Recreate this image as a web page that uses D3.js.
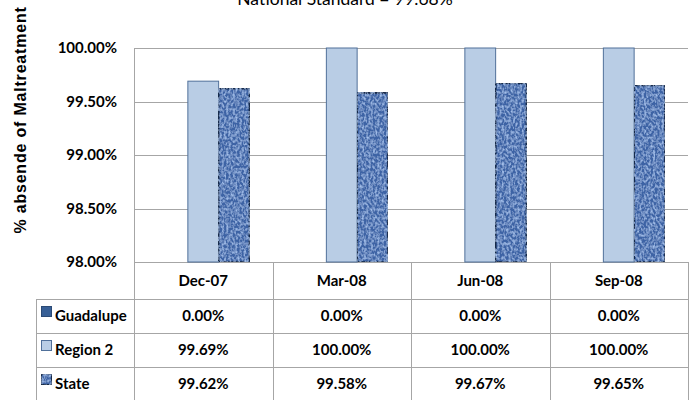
<!DOCTYPE html>
<html>
<head>
<meta charset="utf-8">
<script src="https://cdn.jsdelivr.net/npm/d3@7"></script>
<style>
  html, body { margin: 0; padding: 0; background: #fff; }
  svg { display: block; }
</style>
</head>
<body>
<svg id="chart" width="692" height="400"></svg>
<script>
// data
const categories = ["Dec-07", "Mar-08", "Jun-08", "Sep-08"];
const seriesNames = ["Guadalupe", "Region 2", "State"];
const guadalupe = [0, 0, 0, 0];
const region2 = [99.69, 100, 100, 100];
const state = [99.62, 99.58, 99.67, 99.65];
const yTicks = [98, 98.5, 99, 99.5, 100];
const title = "National Standard = 99.68%";
const yTitle = "% absende of Maltreatment";

const series = [guadalupe, region2, state];

const W = 692, H = 400;
const plot = { left: 134, right: 688, top: 48, bottom: 262 };
const rowH = 34, headH = 37, legLeft = 36;
const font = "Lato, 'Open Sans', sans-serif";

const svg = d3.select("#chart");

// state texture: noise filter
const defs = svg.append("defs");
const f = defs.append("filter").attr("id", "tex").attr("x", 0).attr("y", 0).attr("width", 1).attr("height", 1);
f.append("feTurbulence").attr("type", "fractalNoise").attr("baseFrequency", "0.45 0.35").attr("numOctaves", 2).attr("seed", 3).attr("result", "n");
f.append("feColorMatrix").attr("in", "n").attr("type", "matrix")
  .attr("values", "0 0 0 0 0  0 0 0 0 0  0 0 0 0 0  -2.2 0 0 0 1.35").attr("result", "a");
f.append("feFlood").attr("flood-color", "#a3c0ec").attr("result", "lt");
f.append("feComposite").attr("in", "lt").attr("in2", "a").attr("operator", "in").attr("result", "spots");
f.append("feComposite").attr("in", "spots").attr("in2", "SourceGraphic").attr("operator", "atop").attr("result", "t");
f.append("feMerge").call(m => { m.append("feMergeNode").attr("in", "SourceGraphic"); m.append("feMergeNode").attr("in", "t"); });

const colors = [
  { fill: "#375f96", stroke: "#2b4a75", filter: null },
  { fill: "#b9cde5", stroke: "#50709a", filter: null },
  { fill: "#3d64a5", stroke: "#172a48", filter: "url(#tex)" }
];

const x0 = d3.scaleBand().domain(categories).range([plot.left, plot.right]);
const x1 = d3.scaleBand().domain(d3.range(3)).range([0, x0.bandwidth()]).paddingOuter(0.75);
const y = d3.scaleLinear().domain([98, 100]).range([plot.bottom, plot.top]).clamp(true);

// gridlines
svg.append("g").selectAll("line").data(yTicks).join("line")
  .attr("x1", plot.left).attr("x2", plot.right)
  .attr("y1", d => Math.round(y(d)) + 0.5).attr("y2", d => Math.round(y(d)) + 0.5)
  .attr("stroke", "#a6a6a6");
svg.append("line").attr("x1", plot.left + 0.5).attr("x2", plot.left + 0.5)
  .attr("y1", plot.top).attr("y2", H).attr("stroke", "#a6a6a6");

// y tick labels
svg.append("g").selectAll("text").data(yTicks).join("text")
  .attr("x", 117).attr("y", d => y(d) + 5)
  .attr("text-anchor", "end").attr("font-family", font).attr("font-weight", "bold")
  .attr("font-size", 15).attr("fill", "#000")
  .text(d => d.toFixed(2) + "%");

// bars
series.forEach((vals, s) => {
  svg.append("g").selectAll("rect").data(vals).join("rect")
    .attr("x", (d, i) => x0(categories[i]) + x1(s))
    .attr("width", x1.bandwidth())
    .attr("y", d => y(d))
    .attr("height", d => y.range()[0] - y(d))
    .attr("fill", colors[s].fill)
    .attr("stroke", d => d > 98 ? colors[s].stroke : "none")
    .attr("stroke-width", s === 2 ? 1.6 : 1)
    .attr("filter", colors[s].filter);
});

// data table
const tbl = svg.append("g").attr("stroke", "#a6a6a6");
x0.domain().forEach(c => {
  tbl.append("line").attr("x1", Math.round(x0(c) + x0.bandwidth()) + 0.5).attr("x2", Math.round(x0(c) + x0.bandwidth()) + 0.5)
    .attr("y1", plot.bottom).attr("y2", H);
});
tbl.append("line").attr("x1", legLeft + 0.5).attr("x2", legLeft + 0.5).attr("y1", plot.bottom + headH).attr("y2", H);
d3.range(3).forEach(r => {
  const yy = plot.bottom + headH + r * rowH;
  tbl.append("line").attr("x1", legLeft).attr("x2", plot.right).attr("y1", yy + 0.5).attr("y2", yy + 0.5);
});

svg.append("g").selectAll("text").data(categories).join("text")
  .attr("x", d => x0(d) + x0.bandwidth() / 2).attr("y", plot.bottom + headH / 2 + 5)
  .attr("text-anchor", "middle").attr("font-family", font).attr("font-weight", "bold").attr("font-size", 15)
  .text(d => d);

series.forEach((vals, s) => {
  const cy = plot.bottom + headH + s * rowH + rowH / 2 + 5;
  const g = svg.append("g").attr("font-family", font).attr("font-weight", "bold").attr("font-size", 15);
  g.selectAll("text").data(vals).join("text")
    .attr("x", (d, i) => x0(categories[i]) + x0.bandwidth() / 2).attr("y", cy)
    .attr("text-anchor", "middle").text(d => d.toFixed(2) + "%");
  g.append("rect").attr("x", 41.5).attr("y", cy - 14.5).attr("width", 10).attr("height", 10)
    .attr("fill", colors[s].fill).attr("stroke", colors[s].stroke).attr("filter", colors[s].filter);
  g.append("text").attr("x", 55).attr("y", cy).text(seriesNames[s]);
});

// titles
svg.append("text").attr("x", 345).attr("y", 5).attr("text-anchor", "middle")
  .attr("font-family", font).attr("font-size", 17.5).text(title);
svg.append("text").attr("transform", "translate(26,120) rotate(-90)").attr("text-anchor", "middle")
  .attr("font-family", "'Liberation Sans', Arial, sans-serif").attr("font-weight", "bold").attr("font-size", 16)
  .attr("letter-spacing", 0.8)
  .text(yTitle);
</script>
</body>
</html>
